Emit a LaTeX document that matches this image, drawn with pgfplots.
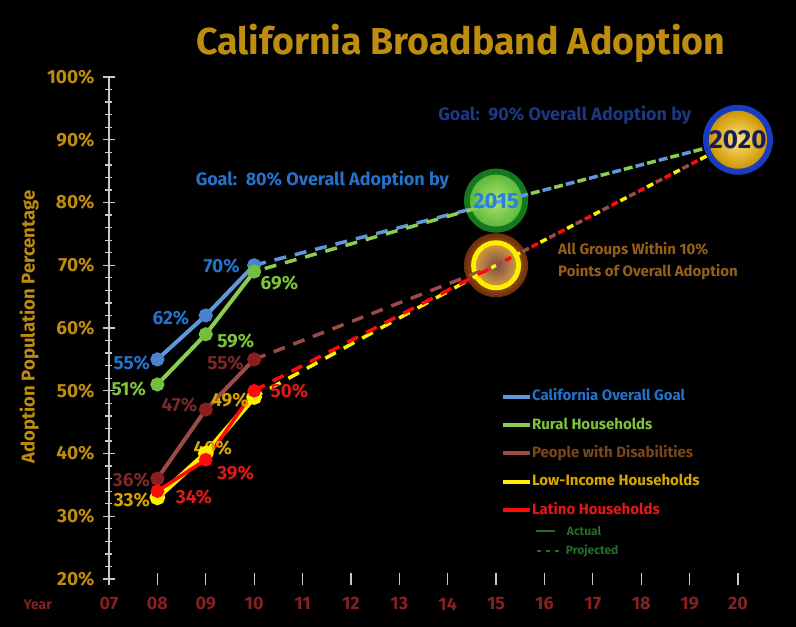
\documentclass[border=0pt]{standalone}
\usepackage{fontspec}
\setmainfont{Fira Sans}
\usepackage{pgfplots}
\pgfplotsset{compat=1.18}
\definecolor{gold}{RGB}{190,140,15}
\definecolor{yred}{RGB}{135,32,32}
\definecolor{axgray}{RGB}{200,200,200}
\definecolor{cOver}{RGB}{95,150,220}
\definecolor{cOverMk}{RGB}{75,130,205}
\definecolor{cRural}{RGB}{140,205,80}
\definecolor{cRuralMk}{RGB}{115,190,60}
\definecolor{cDis}{RGB}{155,75,70}
\definecolor{cDisMk}{RGB}{140,30,30}
\definecolor{cLow}{RGB}{255,240,0}
\definecolor{cLat}{RGB}{255,10,10}
\definecolor{tOver}{RGB}{35,115,205}
\definecolor{tRural}{RGB}{125,195,60}
\definecolor{tDis}{RGB}{125,70,25}
\definecolor{tDisLab}{RGB}{125,40,40}
\definecolor{tLow}{RGB}{215,165,0}
\definecolor{tLat}{RGB}{225,25,25}
\definecolor{tGreen}{RGB}{35,110,40}
\definecolor{navy}{RGB}{30,55,130}
\definecolor{allg}{RGB}{150,95,25}
\definecolor{g15ring}{RGB}{20,120,30}
\definecolor{g15in}{RGB}{175,228,110}
\definecolor{g15out}{RGB}{95,185,60}
\definecolor{t15}{RGB}{40,130,220}
\definecolor{o70in}{RGB}{235,150,30}
\definecolor{o70out}{RGB}{110,45,10}
\definecolor{y70}{RGB}{250,240,0}
\definecolor{m70in}{RGB}{125,75,75}
\definecolor{m70out}{RGB}{205,150,60}
\definecolor{b20ring}{RGB}{25,60,190}
\definecolor{g20in}{RGB}{255,228,125}
\definecolor{g20out}{RGB}{205,150,0}
\definecolor{t20}{RGB}{20,30,90}
\newcommand\lf{\bfseries\fontsize{19}{19}\selectfont}
\begin{document}
\begin{tikzpicture}
\fill[black] (-109pt,-48pt) rectangle (687pt,579pt);
\begin{axis}[
  at={(0pt,0pt)}, anchor=south west,
  scale only axis, width=629pt, height=502pt,
  xmin=7, xmax=20, ymin=20, ymax=100,
  clip=false,
  axis lines=left, axis line style={-},
  x axis line style={draw=none},
  y axis line style={draw=axgray, line width=2pt},
  xtick={7,...,20},
  xticklabels={07,08,09,10,11,12,13,14,15,16,17,18,19,20},
  ytick={20,30,...,100},
  yticklabels={20\%,30\%,40\%,50\%,60\%,70\%,80\%,90\%,100\%},
  minor y tick num=4,
  tick align=center,
  major tick length=12pt, minor tick length=7pt,
  every tick/.style={draw=axgray, line width=1.3pt},
  yticklabel style={font=\bfseries\fontsize{19}{19}\selectfont, text=gold, xshift=-5pt},
  xticklabel style={font=\bfseries\fontsize{18}{18}\selectfont, text=yred, yshift=-9pt},
  ylabel={Adoption Population Percentage},
  ylabel style={at={(axis description cs:-0.127,0.502)}, anchor=center, font=\bfseries\fontsize{18.5}{18.5}\selectfont, text=gold},
  legend style={at={(axis cs:15.10,50.18)}, anchor=north west, draw=none, fill=none,
    inner sep=0pt, row sep=14.3pt,
    nodes={inner sep=0pt, text height=11pt, text depth=3pt, font=\bfseries\fontsize{15}{15}\selectfont}},
  legend cell align=left,
  legend image code/.code={\draw[line width=4pt, solid] (0pt,0pt) -- (27pt,0pt);},
  proj/.style={line width=3.5pt, forget plot},
]
% background circles
\fill[g15ring] (axis cs:15,80.3) circle[radius=32pt];
\shade[inner color=g15in, outer color=g15out] (axis cs:15,80.3) circle[radius=26pt];
\shade[inner color=o70in, outer color=o70out] (axis cs:15,70) circle[radius=32pt];
\fill[y70] (axis cs:15,70) circle[radius=25pt];
\shade[inner color=m70in, outer color=m70out] (axis cs:15,70) circle[radius=20pt];
% projected lines, 2010 -> 2015
\addplot[cOver, proj, dash pattern=on 12pt off 9pt] coordinates {(10,70)(15,80)};
\addplot[cRural, proj, dash pattern=on 12pt off 9pt, dash phase=10pt] coordinates {(10,69)(15,80)};
\addplot[cDis, proj, dash pattern=on 12pt off 9pt] coordinates {(10,55)(15,70)};
\addplot[cLow, proj, dash pattern=on 12pt off 9pt, dash phase=3pt] coordinates {(10,49)(15,70)};
\addplot[cLat, proj, dash pattern=on 12pt off 9pt] coordinates {(10,50)(15,70)};
% projected lines, 2015 -> 2020
\addplot[cOver, proj, dash pattern=on 9pt off 15pt] coordinates {(15,80)(20,90)};
\addplot[cRural, proj, dash pattern=on 9pt off 15pt, dash phase=12pt] coordinates {(15,80)(20,90)};
\addplot[cDis, proj, dash pattern=on 7pt off 23pt] coordinates {(15,70)(20,90)};
\addplot[cLow, proj, dash pattern=on 7pt off 23pt, dash phase=10pt] coordinates {(15,70)(20,90)};
\addplot[cLat, proj, dash pattern=on 7pt off 23pt, dash phase=20pt] coordinates {(15,70)(20,90)};
% actual lines
\addplot[cOver, line width=4pt, mark=*, mark size=5pt, mark options={fill=cOverMk, draw=cOverMk}] coordinates {(8,55)(9,62)(10,70)};
\addlegendentry{\textcolor{tOver}{California Overall Goal}}
\addplot[cRural, line width=4pt, mark=*, mark size=5pt, mark options={fill=cRuralMk, draw=cRuralMk}] coordinates {(8,51)(9,59)(10,69)};
\addlegendentry{\textcolor{tRural}{Rural Households}}
\addplot[cDis, line width=4pt, mark=*, mark size=5pt, mark options={fill=cDisMk, draw=cDisMk}] coordinates {(8,36)(9,47)(10,55)};
\addlegendentry{\textcolor{tDis}{People with Disabilities}}
\addplot[cLow, line width=5.5pt, mark=*, mark size=5pt, mark options={fill=cLow, draw=cLow}] coordinates {(8,33)(9,40)(10,49)};
\addlegendentry{\textcolor{tLow}{Low-Income Households}}
\addplot[cLat, line width=3.5pt, mark=*, mark size=5pt, mark options={fill=cLat, draw=cLat}] coordinates {(8,34)(9,39)(10,50)};
\addlegendentry{\textcolor{tLat}{Latino Households}}
% 2020 circle on top
\fill[b20ring] (axis cs:20,90) circle[radius=35pt];
\shade[inner color=g20in, outer color=g20out] (axis cs:20,90) circle[radius=29pt];
\node[font=\bfseries\fontsize{26}{26}\selectfont, text=t20] at (axis cs:20,90) {2020};
\node[font=\bfseries\fontsize{22}{22}\selectfont, text=t15] at (axis cs:15,80.3) {2015};
% data labels
\node[font=\lf, text=tOver, anchor=east] at ([xshift=-4pt,yshift=-4pt]axis cs:8,55) {55\%};
\node[font=\lf, text=tOver, anchor=east] at ([xshift=-13pt,yshift=-3pt]axis cs:9,62) {62\%};
\node[font=\lf, text=tOver, anchor=east] at ([xshift=-11pt,yshift=-1pt]axis cs:10,70) {70\%};
\node[font=\lf, text=tRural, anchor=east] at ([xshift=-8pt,yshift=-5pt]axis cs:8,51) {51\%};
\node[font=\lf, text=tRural, anchor=west] at ([xshift=8pt,yshift=-7pt]axis cs:9,59) {59\%};
\node[font=\lf, text=tRural, anchor=west] at ([xshift=3pt,yshift=-12pt]axis cs:10,69) {69\%};
\node[font=\lf, text=tDisLab, anchor=east] at ([xshift=-4pt,yshift=-1pt]axis cs:8,36) {36\%};
\node[font=\lf, text=tDisLab, anchor=east] at ([xshift=-5pt,yshift=5pt]axis cs:9,47) {47\%};
\node[font=\lf, text=tDisLab, anchor=east] at ([xshift=-7pt,yshift=-4pt]axis cs:10,55) {55\%};
\node[font=\lf, text=tLow, anchor=east] at ([xshift=-4pt,yshift=-3pt]axis cs:8,33) {33\%};
\node[font=\lf, text=tLow] at ([xshift=7pt,yshift=5pt]axis cs:9,40) {40\%};
\node[font=\lf, text=tLow, anchor=east] at ([xshift=-2pt,yshift=-3pt]axis cs:10,49) {49\%};
\node[font=\lf, text=tLat, anchor=west] at ([xshift=15pt,yshift=-6pt]axis cs:8,34) {34\%};
\node[font=\lf, text=tLat, anchor=west] at ([xshift=8pt,yshift=-13pt]axis cs:9,39) {39\%};
\node[font=\lf, text=tLat, anchor=west] at ([xshift=13pt,yshift=0pt]axis cs:10,50) {50\%};
% annotations
\node[font=\bfseries\fontsize{37.5}{37.5}\selectfont, text=gold] at (axis cs:14.27,105.35) {California Broadband Adoption};
\node[font=\bfseries\fontsize{18}{18}\selectfont, text=navy] at (axis cs:16.42,93.9) {Goal:\ \ 90\% Overall Adoption by};
\node[font=\bfseries\fontsize{18}{18}\selectfont, text=tOver] at (axis cs:11.41,83.5) {Goal:\ \ 80\% Overall Adoption by};
\node[font=\bfseries\fontsize{15}{22}\selectfont, text=allg, anchor=west, align=left, inner sep=0pt] at (axis cs:16.28,70.64) {All Groups Within 10\%\\Points of Overall Adoption};
\node[font=\bfseries\fontsize{14}{14}\selectfont, text=yred] at (axis cs:5.53,15.86) {Year};
\draw[tGreen, line width=1.5pt] (axis cs:15.82,27.64) -- (axis cs:16.21,27.64);
\node[font=\bfseries\fontsize{12}{12}\selectfont, text=tGreen, anchor=west, inner sep=0pt] at (axis cs:16.46,27.64) {Actual};
\draw[tGreen, line width=1.5pt, dash pattern=on 4pt off 5pt] (axis cs:15.84,24.46) -- (axis cs:16.32,24.46);
\node[font=\bfseries\fontsize{12}{12}\selectfont, text=tGreen, anchor=west, inner sep=0pt] at (axis cs:16.44,24.46) {Projected};
\end{axis}
\pgfresetboundingbox
\path[use as bounding box] (-109pt,-48pt) rectangle (687pt,579pt);
\end{tikzpicture}
\end{document}
